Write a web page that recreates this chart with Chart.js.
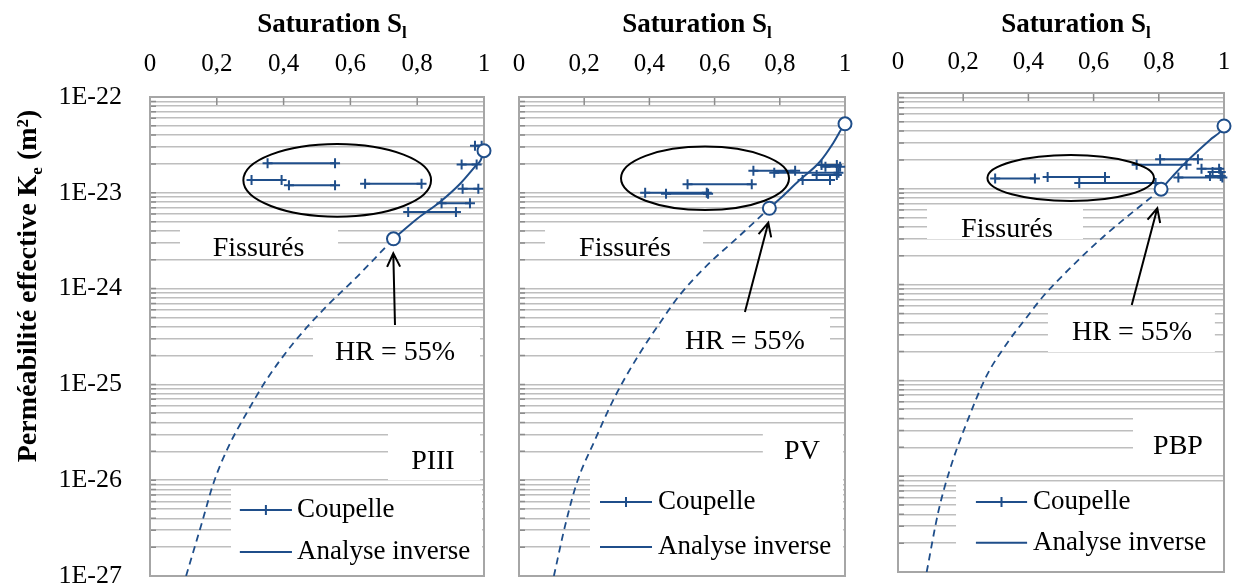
<!DOCTYPE html>
<html lang="fr">
<head>
<meta charset="UTF-8" />
<title>Perméabilité effective - PIII, PV, PBP</title>
<script src="https://cdn.jsdelivr.net/npm/chart.js"></script>
<style>
  body { margin: 0; background: #fff; }
  #wrap { position: relative; width: 1234px; height: 588px; overflow: hidden; }
  canvas { position: absolute; top: 0; }
</style>
</head>
<body>
<div id="wrap">
  <canvas id="piii" width="500" height="588" style="left:0px"></canvas>
  <canvas id="pv" width="365" height="588" style="left:500px"></canvas>
  <canvas id="pbp" width="369" height="588" style="left:865px"></canvas>
</div>
<script>
// axes
const satTicks = [0, 0.2, 0.4, 0.6, 0.8, 1];
const permDecades = [-27, -26, -25, -24, -23, -22];

// PIII : coupelle (pairs of saturations at the same permeability)
const piiiCupS1 = [0.352, 0.304, 0.416, 0.644, 0.973, 0.933, 0.936, 0.873, 0.773];
const piiiCupS2 = [0.554, 0.394, 0.554, 0.813, 0.993, 0.978, 0.983, 0.958, 0.916];
const piiiCupK = [2.03e-23, 1.36e-23, 1.2e-23, 1.24e-23, 3.1e-23, 1.98e-23, 1.1e-23, 7.8e-24, 6.3e-24];
// PIII : analyse inverse (solid) and its extrapolation (dashed)
const piiiInvS = [0.729, 0.8, 0.87, 0.93, 0.975, 0.99, 1.0];
const piiiInvK = [3.31e-24, 5.37e-24, 8.13e-24, 1.26e-23, 1.91e-23, 2.19e-23, 2.75e-23];
const piiiExtS = [0.108, 0.155, 0.19, 0.235, 0.289, 0.349, 0.429, 0.519, 0.619, 0.729];
const piiiExtK = [1.0e-27, 3.55e-27, 9.3e-27, 2.24e-26, 5.0e-26, 1.12e-25, 2.69e-25, 6.03e-25, 1.32e-24, 3.31e-24];
const piiiHrS = [0.729, 1.0];
const piiiHrK = [3.31e-24, 2.75e-23];

// PV
const pvCupS1 = [0.387, 0.451, 0.517, 0.719, 0.783, 0.87, 0.913, 0.928, 0.94];
const pvCupS2 = [0.576, 0.58, 0.714, 0.847, 0.98, 0.954, 0.975, 0.975, 0.985];
const pvCupK = [1.0e-23, 9.8e-24, 1.23e-23, 1.7e-23, 1.62e-23, 1.36e-23, 1.53e-23, 1.95e-23, 1.87e-23];
const pvInvS = [0.768, 0.801, 0.86, 0.923, 0.964, 0.99, 1.0];
const pvInvK = [6.9e-24, 8.7e-24, 1.35e-23, 2.11e-23, 3.31e-23, 4.68e-23, 5.25e-23];
const pvExtS = [0.107, 0.141, 0.177, 0.233, 0.294, 0.366, 0.43, 0.49, 0.57, 0.673, 0.768];
const pvExtK = [1.0e-27, 3.3e-27, 9.3e-27, 2.63e-26, 7.4e-26, 2.0e-25, 4.27e-25, 8.3e-25, 1.66e-24, 3.47e-24, 6.9e-24];
const pvHrS = [0.768, 1.0];
const pvHrK = [6.9e-24, 5.25e-23];

// PBP
const pbpCupS1 = [0.298, 0.459, 0.556, 0.732, 0.804, 0.86, 0.931, 0.957, 0.965];
const pbpCupS2 = [0.42, 0.635, 0.79, 0.885, 0.92, 0.995, 0.985, 0.99, 0.99];
const pbpCupK = [1.28e-23, 1.33e-23, 1.15e-23, 1.78e-23, 2.03e-23, 1.31e-23, 1.62e-23, 1.36e-23, 1.5e-23];
const pbpInvS = [0.807, 0.845, 0.885, 0.957, 0.993, 1.0];
const pbpInvK = [9.9e-24, 1.38e-23, 1.92e-23, 3.24e-23, 4.11e-23, 4.53e-23];
const pbpExtS = [0.088, 0.124, 0.16, 0.211, 0.272, 0.333, 0.395, 0.446, 0.53, 0.63, 0.807];
const pbpExtK = [1.0e-27, 4.3e-27, 1.2e-26, 3.63e-26, 1.12e-25, 2.4e-25, 4.57e-25, 7.6e-25, 1.51e-24, 3.16e-24, 9.9e-24];
const pbpHrS = [0.807, 1.0];
const pbpHrK = [9.9e-24, 4.53e-23];

const SERIF = '"Liberation Serif", "Times New Roman", serif';
const BLUE = '#1f4e8a';

// gridlines at 1..9 x 10^n
const gridValues = [];
permDecades.slice(0, -1).forEach(e => {
  for (let m = 1; m <= 9; m++) gridValues.push(m * Math.pow(10, e));
});
gridValues.push(Math.pow(10, permDecades[permDecades.length - 1]));

const pts = (s, k) => s.map((v, i) => ({ x: v, y: k[i] }));
function pairs(s1, s2, k) {
  const out = [];
  k.forEach((v, i) => out.push({ x: s1[i], y: v }, { x: s2[i], y: v }, { x: s2[i], y: null }));
  return out;
}

// text with subscript pieces
function drawRich(ctx, parts, x, y, size, weight) {
  const fontFor = k => `${weight} ${k ? Math.round(size * 0.62) : size}px ${SERIF}`;
  let w = 0;
  parts.forEach(([t, k]) => { ctx.font = fontFor(k); w += ctx.measureText(t).width; });
  let cx = x - w / 2;
  ctx.textAlign = 'left';
  ctx.textBaseline = 'alphabetic';
  parts.forEach(([t, k]) => {
    ctx.font = fontFor(k);
    const dy = k === 'sub' ? size * 0.22 : 0;
    ctx.fillText(t, cx, y + dy);
    cx += ctx.measureText(t).width;
  });
}

function makeDecor(d) {
  const area = chart => {
    const a = chart.chartArea;
    const w = a.right - a.left, h = a.bottom - a.top;
    return { a, w, h, px: f => a.left + f * w, py: f => a.top + f * h };
  };
  return {
    id: 'decor',
    beforeDatasetsDraw(chart) {
      const { ctx, scales } = chart;
      const { a, w, h, px, py } = area(chart);
      ctx.save();
      ctx.fillStyle = '#fff';
      d.boxes.forEach(b => ctx.fillRect(px(b.x0), py(b.y0), px(b.x1) - px(b.x0), py(b.y1) - py(b.y0)));
      // inside tick marks
      ctx.strokeStyle = '#8c8c8c';
      ctx.lineWidth = 1.5;
      ctx.beginPath();
      scales.x.ticks.forEach(t => {
        const x = scales.x.getPixelForValue(t.value);
        ctx.moveTo(x, a.top); ctx.lineTo(x, a.top + 8);
      });
      scales.y.ticks.forEach(t => {
        const y = scales.y.getPixelForValue(t.value);
        ctx.moveTo(a.left, y); ctx.lineTo(a.left + 6, y);
      });
      ctx.stroke();
      ctx.strokeStyle = '#a6a6a6';
      ctx.lineWidth = 2;
      ctx.strokeRect(a.left, a.top, w, h);
      ctx.fillStyle = '#000';
      ctx.font = `28px ${SERIF}`;
      ctx.textAlign = 'center';
      ctx.textBaseline = 'middle';
      d.boxes.forEach(b => { if (b.text) ctx.fillText(b.text, px(b.tx), py(b.ty)); });
      ctx.restore();
    },
    afterDatasetsDraw(chart) {
      const { ctx } = chart;
      const { w, h, px, py } = area(chart);
      ctx.save();
      // ellipse round the cracked samples
      const e = d.ellipse;
      ctx.strokeStyle = '#000';
      ctx.lineWidth = 2;
      ctx.beginPath();
      ctx.ellipse(px(e.cx), py(e.cy), e.rx * w, e.ry * h, 0, 0, Math.PI * 2);
      ctx.stroke();
      // arrow to HR = 55%
      const ar = d.arrow;
      const x0 = px(ar.x0), y0 = py(ar.y0), x1 = px(ar.x1), y1 = py(ar.y1);
      const ang = Math.atan2(y1 - y0, x1 - x0);
      ctx.beginPath();
      ctx.moveTo(x0, y0); ctx.lineTo(x1, y1);
      ctx.moveTo(x1 - 15 * Math.cos(ang - 0.45), y1 - 15 * Math.sin(ang - 0.45));
      ctx.lineTo(x1, y1);
      ctx.lineTo(x1 - 15 * Math.cos(ang + 0.45), y1 - 15 * Math.sin(ang + 0.45));
      ctx.stroke();
      // legend
      const lg = d.legend;
      ctx.strokeStyle = BLUE;
      ctx.lineWidth = 2;
      ctx.beginPath();
      ctx.moveTo(px(lg.x0), py(lg.r1)); ctx.lineTo(px(lg.x1), py(lg.r1));
      const mx = (px(lg.x0) + px(lg.x1)) / 2;
      ctx.moveTo(mx, py(lg.r1) - 5); ctx.lineTo(mx, py(lg.r1) + 5);
      ctx.moveTo(px(lg.x0), py(lg.r2)); ctx.lineTo(px(lg.x1), py(lg.r2));
      ctx.stroke();
      ctx.fillStyle = '#000';
      ctx.font = `27px ${SERIF}`;
      ctx.textAlign = 'left';
      ctx.textBaseline = 'middle';
      ctx.fillText('Coupelle', px(lg.tx), py(lg.r1));
      ctx.fillText('Analyse inverse', px(lg.tx), py(lg.r2));
      ctx.restore();
    },
    afterDraw(chart) {
      const { ctx } = chart;
      const { a } = area(chart);
      ctx.save();
      ctx.fillStyle = '#000';
      drawRich(ctx, [['Saturation S', ''], ['l', 'sub']], (a.left + a.right) / 2 + 15, 32, 27, 'bold');
      if (d.yTitle) {
        ctx.translate(36, 286);
        ctx.rotate(-Math.PI / 2);
        drawRich(ctx, [['Perméabilité effective K', ''], ['e', 'sub'], [' (m²)', '']], 0, 0, 28, 'bold');
      }
      ctx.restore();
    }
  };
}

function makeChart(id, p) {
  new Chart(document.getElementById(id), {
    type: 'line',
    data: {
      datasets: [
        { label: 'HR = 55%', data: pts(p.hrS, p.hrK), showLine: false, pointRadius: 6.5,
          pointBackgroundColor: '#fff', pointBorderColor: BLUE, pointBorderWidth: 2, clip: false, order: 0 },
        { label: 'Coupelle', data: pairs(p.cupS1, p.cupS2, p.cupK), borderColor: BLUE, borderWidth: 2,
          pointStyle: 'cross', pointRadius: 5, pointBorderColor: BLUE, pointBorderWidth: 2,
          spanGaps: false, clip: false, order: 1 },
        { label: 'Analyse inverse', data: pts(p.invS, p.invK), borderColor: BLUE, borderWidth: 2,
          pointRadius: 0, cubicInterpolationMode: 'monotone', order: 2 },
        { label: 'Analyse inverse (extrapolation)', data: pts(p.extS, p.extK), borderColor: BLUE,
          borderWidth: 1.8, borderDash: [7, 5], pointRadius: 0, cubicInterpolationMode: 'monotone', order: 3 }
      ]
    },
    options: {
      responsive: false,
      animation: false,
      devicePixelRatio: 1,
      events: [],
      layout: { padding: p.pad, autoPadding: false },
      plugins: { legend: { display: false }, tooltip: { enabled: false } },
      scales: {
        x: {
          type: 'linear', position: 'top', min: 0, max: 1,
          afterBuildTicks: s => { s.ticks = satTicks.map(v => ({ value: v })); },
          // fixed axis band; the label padding must not shrink the plot
          afterFit: s => { s.height = p.top; s.paddingLeft = 0; s.paddingRight = 0; },
          grid: { display: false }, border: { display: false },
          ticks: {
            autoSkip: false, maxRotation: 0, padding: p.tickPad, color: '#000',
            font: { family: SERIF, size: 25 },
            callback: v => String(Math.round(v * 10) / 10).replace('.', ',')
          }
        },
        y: {
          type: 'logarithmic', min: 1e-27, max: 1e-22,
          afterBuildTicks: s => { s.ticks = gridValues.map(v => ({ value: v })); },
          afterFit: s => { s.width = p.yWidth; s.paddingTop = 0; s.paddingBottom = 0; },
          grid: { color: '#bebebe', lineWidth: 1.6, drawTicks: false }, border: { display: false },
          ticks: {
            display: p.yLabels, autoSkip: false, padding: 28, color: '#000',
            font: { family: SERIF, size: 26 },
            callback: v => {
              const e = Math.log10(v);
              return Math.abs(e - Math.round(e)) < 1e-6 ? '1E' + Math.round(e) : '';
            }
          }
        }
      }
    },
    plugins: [makeDecor(p.decor)]
  });
}

makeChart('piii', {
  cupS1: piiiCupS1, cupS2: piiiCupS2, cupK: piiiCupK, invS: piiiInvS, invK: piiiInvK,
  extS: piiiExtS, extK: piiiExtK, hrS: piiiHrS, hrK: piiiHrK,
  pad: { left: 0, right: 16, top: 0, bottom: 12 }, top: 97, yWidth: 150, tickPad: 10, yLabels: true,
  decor: {
    yTitle: true,
    ellipse: { cx: 0.5605, cy: 0.174, rx: 0.281, ry: 0.0758 },
    arrow: { x0: 0.7335, y0: 0.476, x1: 0.7284, y1: 0.3263 },
    boxes: [
      { x0: 0.0898, x1: 0.563, y0: 0.2714, y1: 0.336, text: 'Fissurés', tx: 0.325, ty: 0.3173 },
      { x0: 0.488, x1: 0.988, y0: 0.48, y1: 0.574, text: 'HR = 55%', tx: 0.7335, ty: 0.5344 },
      { x0: 0.7126, x1: 0.988, y0: 0.7015, y1: 0.8, text: 'PIII', tx: 0.847, ty: 0.762 },
      { x0: 0.2425, x1: 0.994, y0: 0.816, y1: 1.0 }
    ],
    legend: { x0: 0.269, x1: 0.425, tx: 0.44, r1: 0.862, r2: 0.95 }
  }
});

makeChart('pv', {
  cupS1: pvCupS1, cupS2: pvCupS2, cupK: pvCupK, invS: pvInvS, invK: pvInvK,
  extS: pvExtS, extK: pvExtK, hrS: pvHrS, hrK: pvHrK,
  pad: { left: 0, right: 20, top: 0, bottom: 12 }, top: 97, yWidth: 19, tickPad: 10, yLabels: false,
  decor: {
    yTitle: false,
    ellipse: { cx: 0.5706, cy: 0.1697, rx: 0.2577, ry: 0.0662 },
    arrow: { x0: 0.693, y0: 0.4489, x1: 0.7647, y1: 0.2624 },
    boxes: [
      { x0: 0.0798, x1: 0.5644, y0: 0.2735, y1: 0.336, text: 'Fissurés', tx: 0.325, ty: 0.3173 },
      { x0: 0.4325, x1: 0.954, y0: 0.451, y1: 0.5386, text: 'HR = 55%', tx: 0.693, ty: 0.5115 },
      { x0: 0.748, x1: 0.994, y0: 0.7015, y1: 0.7954, text: 'PV', tx: 0.868, ty: 0.741 },
      { x0: 0.2178, x1: 0.994, y0: 0.7954, y1: 1.0 }
    ],
    legend: { x0: 0.2485, x1: 0.408, tx: 0.4264, r1: 0.8455, r2: 0.9395 }
  }
});

makeChart('pbp', {
  cupS1: pbpCupS1, cupS2: pbpCupS2, cupK: pbpCupK, invS: pbpInvS, invK: pbpInvK,
  extS: pbpExtS, extK: pbpExtK, hrS: pbpHrS, hrK: pbpHrK,
  pad: { left: 0, right: 10, top: 0, bottom: 16 }, top: 93, yWidth: 33, tickPad: 8, yLabels: false,
  decor: {
    yTitle: false,
    ellipse: { cx: 0.5298, cy: 0.1775, rx: 0.2555, ry: 0.048 },
    arrow: { x0: 0.717, y0: 0.4426, x1: 0.7954, y1: 0.2407 },
    boxes: [
      { x0: 0.089, x1: 0.5675, y0: 0.2422, y1: 0.3048, text: 'Fissurés', tx: 0.3344, ty: 0.286 },
      { x0: 0.46, x1: 0.972, y0: 0.4489, y1: 0.5407, text: 'HR = 55%', tx: 0.7178, ty: 0.501 },
      { x0: 0.7209, x1: 0.997, y0: 0.6785, y1: 0.7975, text: 'PBP', tx: 0.859, ty: 0.739 },
      { x0: 0.178, x1: 0.997, y0: 0.812, y1: 1.0 }
    ],
    legend: { x0: 0.239, x1: 0.396, tx: 0.414, r1: 0.854, r2: 0.939 }
  }
});
</script>
</body>
</html>
